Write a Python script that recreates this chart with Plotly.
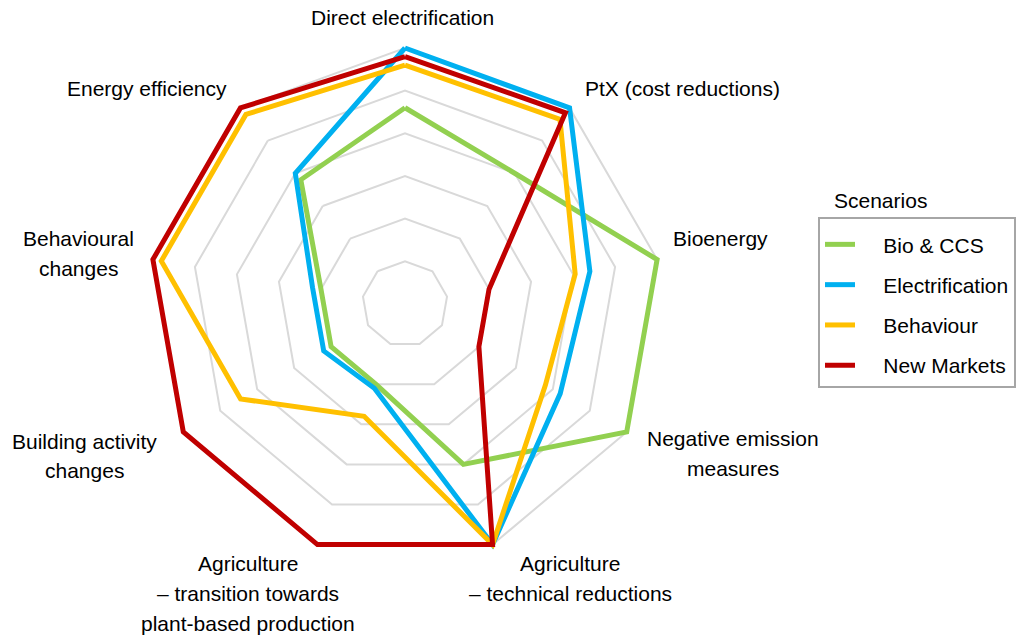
import plotly.graph_objects as go

W, H = 1023, 635

# Dimensions scored on each axis (clockwise from the top)
categories = [
    "Direct electrification",
    "PtX (cost reductions)",
    "Bioenergy",
    "Negative emission measures",
    "Agriculture – technical reductions",
    "Agriculture – transition towards plant-based production",
    "Building activity changes",
    "Behavioural changes",
    "Energy efficiency",
]

# Scenario scores per dimension
bio_ccs = [4.6, 4.0, 6.0, 6.0, 4.0, 2.0, 2.0, 2.0, 3.8]
electrification = [6.0, 6.0, 4.4, 4.2, 6.0, 2.1, 2.2, 2.2, 4.0]
behaviour = [5.6, 5.65, 4.05, 3.8, 6.0, 2.8, 4.45, 5.8, 5.8]
new_markets = [5.8, 5.85, 2.0, 2.0, 6.0, 6.0, 6.0, 6.0, 6.0]

scenario_names = ["Bio & CCS", "Electrification", "Behaviour", "New Markets"]
scenario_values = [bio_ccs, electrification, behaviour, new_markets]
scenario_colors = ["#92D050", "#00B0F0", "#FFC000", "#C00000"]

# Axis labels drawn around the web, split into lines
axis_label_lines = [
    ["Direct electrification"],
    ["PtX (cost reductions)"],
    ["Bioenergy"],
    ["Negative emission", "measures"],
    ["Agriculture", "– technical reductions"],
    ["Agriculture", "– transition towards", "plant-based production"],
    ["Building activity", "changes"],
    ["Behavioural", "changes"],
    ["Energy efficiency"],
]
# (x, y of first line in px, anchor)
label_spots = [
    (402, 18, "center"),
    (583, 88, "left"),
    (671, 238, "left"),
    (733, 438, "center"),
    (570, 563, "center"),
    (248, 563, "center"),
    (84, 441, "center"),
    (78, 238, "center"),
    (147, 88, "center"),
]
LINE_STEP = 30
FONT = "Liberation Sans, Arial, sans-serif"
FSIZE = 21

# Web centre, pixel radius of score 6, and the radial range
CX, CY, R6 = 405, 304, 256
R_MAX = 6.2
R_OUT = R6 * R_MAX / 6
NBSP = "\u00a0"


def px(x):
    return x / W


def py(y):
    return 1 - y / H


fig = go.Figure()
for i, (name, vals, col) in enumerate(zip(scenario_names, scenario_values, scenario_colors)):
    fig.add_trace(go.Scatterpolar(
        r=vals + vals[:1],
        theta=categories + categories[:1],
        mode="lines",
        name=NBSP * 4 + name,
        legendgroup=f"g{i}",
        line=dict(color=col, width=5),
        hoverinfo="skip",
    ))

annotations = []
for lines, (x, y, anchor) in zip(axis_label_lines, label_spots):
    for k, t in enumerate(lines):
        annotations.append(dict(
            text=t, x=px(x), y=py(y + k * LINE_STEP), xref="paper", yref="paper",
            xanchor=anchor, yanchor="middle", showarrow=False,
            font=dict(family=FONT, size=FSIZE, color="#000000"),
        ))
annotations.append(dict(
    text="Scenarios", x=px(832), y=py(200), xref="paper", yref="paper",
    xanchor="left", yanchor="middle", showarrow=False,
    font=dict(family=FONT, size=FSIZE, color="#000000"),
))

fig.update_layout(
    width=W, height=H,
    margin=dict(l=0, r=0, t=0, b=0),
    paper_bgcolor="white",
    font=dict(family=FONT, size=FSIZE, color="#000000"),
    polar=dict(
        domain=dict(x=[px(CX - R_OUT), px(CX + R_OUT)], y=[py(CY + R_OUT), py(CY - R_OUT)]),
        bgcolor="white",
        gridshape="linear",
        radialaxis=dict(
            range=[0, R_MAX], tickvals=[1, 2, 3, 4, 5, 6], showticklabels=False,
            ticks="", showline=False, gridcolor="#D9D9D9", gridwidth=1.5,
        ),
        angularaxis=dict(
            direction="clockwise", rotation=90, showticklabels=False, ticks="",
            showgrid=False, showline=False,
        ),
    ),
    showlegend=True,
    legend=dict(
        x=px(818), y=py(217), xanchor="left", yanchor="top",
        bordercolor="#A6A6A6", borderwidth=2, bgcolor="white",
        tracegroupgap=10, traceorder="grouped",
        font=dict(family=FONT, size=FSIZE, color="#000000"),
        itemwidth=30,
        title=dict(text=NBSP, font=dict(size=4)),
    ),
    annotations=annotations,
)

fig.write_html("out.html")
